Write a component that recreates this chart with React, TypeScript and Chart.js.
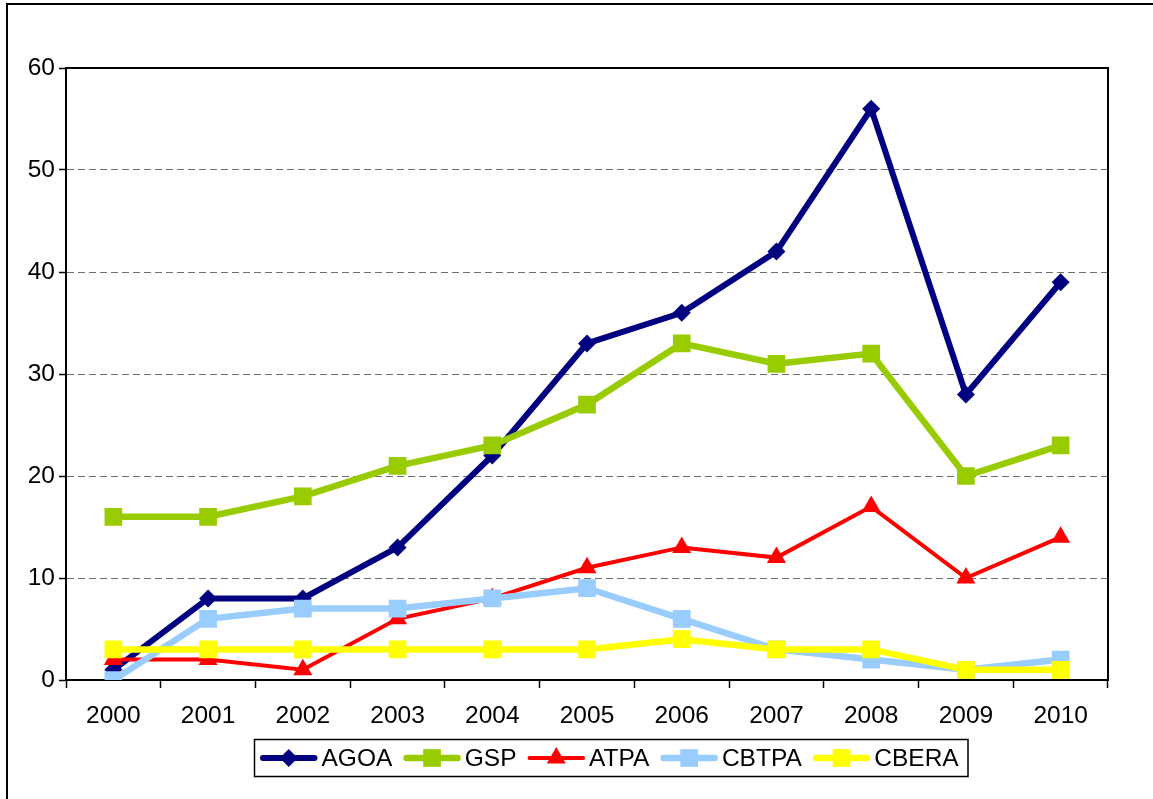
import React, { useEffect, useRef } from "react";
import { Chart, registerables } from "chart.js";

Chart.register(...registerables);

const years = ["2000", "2001", "2002", "2003", "2004", "2005", "2006", "2007", "2008", "2009", "2010"];
const agoa = [1, 8, 8, 13, 22, 33, 36, 42, 56, 28, 39];
const gsp = [16, 16, 18, 21, 23, 27, 33, 31, 32, 20, 23];
const atpa = [2, 2, 1, 6, 8, 11, 13, 12, 17, 10, 14];
const cbtpa = [0, 6, 7, 7, 8, 9, 6, 3, 2, 1, 2];
const cbera = [3, 3, 3, 3, 3, 3, 4, 3, 3, 1, 1];

const FONT = "'Liberation Sans', Arial, sans-serif";

type SeriesStyle = {
  label: string;
  data: number[];
  color: string;
  width: number;
  pointStyle: string;
  radius: number;
};

const series: SeriesStyle[] = [
  { label: "AGOA", data: agoa, color: "#000080", width: 6, pointStyle: "rectRot", radius: 9 },
  { label: "GSP", data: gsp, color: "#99CC00", width: 6.5, pointStyle: "rect", radius: 12.5 },
  { label: "ATPA", data: atpa, color: "#FF0000", width: 4, pointStyle: "triangle", radius: 11 },
  { label: "CBTPA", data: cbtpa, color: "#99CCFF", width: 6.5, pointStyle: "rect", radius: 12.5 },
  { label: "CBERA", data: cbera, color: "#FFFF00", width: 6.5, pointStyle: "rect", radius: 12.5 },
];

function drawMarker(ctx: CanvasRenderingContext2D, style: string, x: number, y: number, r: number, color: string) {
  ctx.save();
  ctx.fillStyle = color;
  ctx.beginPath();
  if (style === "rectRot") {
    ctx.moveTo(x, y - r);
    ctx.lineTo(x + r, y);
    ctx.lineTo(x, y + r);
    ctx.lineTo(x - r, y);
  } else if (style === "rect") {
    const s = Math.SQRT1_2 * r;
    ctx.rect(x - s, y - s, 2 * s, 2 * s);
  } else if (style === "triangle") {
    const a = Math.sin(Math.PI / 3) * r;
    ctx.moveTo(x, y - r);
    ctx.lineTo(x + a, y + r / 2);
    ctx.lineTo(x - a, y + r / 2);
  }
  ctx.closePath();
  ctx.fill();
  ctx.restore();
}

const framePlugin = {
  id: "frame",
  beforeDraw(chart: any) {
    const ctx = chart.ctx as CanvasRenderingContext2D;
    ctx.save();
    ctx.fillStyle = "#ffffff";
    ctx.fillRect(0, 0, chart.width, chart.height);
    ctx.strokeStyle = "#000000";
    ctx.lineWidth = 2;
    ctx.beginPath();
    ctx.moveTo(7, chart.height);
    ctx.lineTo(7, 4);
    ctx.lineTo(chart.width, 4);
    ctx.stroke();
    ctx.restore();
  },
  beforeDatasetsDraw(chart: any) {
    const ctx = chart.ctx as CanvasRenderingContext2D;
    const a = chart.chartArea;
    ctx.save();
    ctx.strokeStyle = "#000000";
    ctx.lineWidth = 2;
    ctx.beginPath();
    ctx.moveTo(a.left, a.top);
    ctx.lineTo(a.right, a.top);
    ctx.lineTo(a.right, a.bottom);
    ctx.stroke();
    ctx.restore();
  },
  afterDraw(chart: any) {
    const ctx = chart.ctx as CanvasRenderingContext2D;
    ctx.save();
    ctx.strokeStyle = "#000000";
    ctx.lineWidth = 1.5;
    ctx.strokeRect(254.5, 739.5, 713.5, 37);
    ctx.font = `24.5px ${FONT}`;
    ctx.textBaseline = "middle";
    ctx.textAlign = "left";
    let x = 260;
    const y = 758;
    for (const s of series) {
      ctx.strokeStyle = s.color;
      ctx.lineWidth = s.width;
      ctx.lineCap = "round";
      ctx.beginPath();
      ctx.moveTo(x + s.width / 2, y);
      ctx.lineTo(x + 57.5 - s.width / 2, y);
      ctx.stroke();
      drawMarker(ctx, s.pointStyle, x + 28.75, y, s.radius, s.color);
      const tx = x + 61.5;
      ctx.fillStyle = "#000000";
      ctx.fillText(s.label, tx, y + 1);
      x = tx + ctx.measureText(s.label).width + 11;
    }
    ctx.restore();
  },
};

export default function App() {
  const ref = useRef<HTMLCanvasElement | null>(null);

  useEffect(() => {
    document.body.style.margin = "0";
    const canvas = ref.current;
    if (!canvas) return;
    const chart = new Chart(canvas, {
      type: "line",
      data: {
        labels: years,
        datasets: series.map((s, i) => ({
          label: s.label,
          data: s.data,
          borderColor: s.color,
          backgroundColor: s.color,
          borderWidth: s.width,
          pointStyle: s.pointStyle as any,
          pointRadius: s.radius,
          pointHoverRadius: s.radius,
          pointBorderWidth: 0,
          pointBackgroundColor: s.color,
          pointBorderColor: s.color,
          tension: 0,
          fill: false,
          order: series.length - i,
        })),
      },
      options: {
        animation: false,
        responsive: false,
        maintainAspectRatio: false,
        layout: { padding: { left: 0, top: 68, right: 45, bottom: 64 } },
        plugins: {
          legend: { display: false },
          tooltip: { enabled: false },
          title: { display: false },
        },
        scales: {
          x: {
            type: "category",
            offset: true,
            afterFit: (scale: any) => {
              scale.height = 55;
            },
            grid: {
              display: true,
              drawOnChartArea: false,
              drawTicks: true,
              tickLength: 8,
              tickColor: "#000000",
              tickWidth: 1.5,
              offset: true,
            },
            border: { display: true, color: "#000000", width: 2 },
            ticks: {
              color: "#000000",
              font: { family: FONT, size: 24.5 },
              padding: 14,
              maxRotation: 0,
              autoSkip: false,
            },
          },
          y: {
            min: 0,
            max: 60,
            afterFit: (scale: any) => {
              scale.width = 66;
            },
            grid: {
              color: (c: any) => (c.tick && (c.tick.value === 0 || c.tick.value === 60) ? "rgba(0,0,0,0)" : "#6f6f6f"),
              lineWidth: 1,
              tickColor: "#000000",
              tickLength: 7,
              tickWidth: 1.5,
              tickBorderDash: [],
            } as any,
            border: { display: true, color: "#000000", width: 2, dash: [7, 4] } as any,
            ticks: {
              stepSize: 10,
              color: "#000000",
              font: { family: FONT, size: 24.5 },
              padding: 4,
            },
          },
        },
      },
      plugins: [framePlugin],
    });
    return () => chart.destroy();
  }, []);

  return (
    <div style={{ width: 1153, height: 799 }}>
      <canvas ref={ref} width={1153} height={799} style={{ display: "block", width: 1153, height: 799 }} />
    </div>
  );
}
